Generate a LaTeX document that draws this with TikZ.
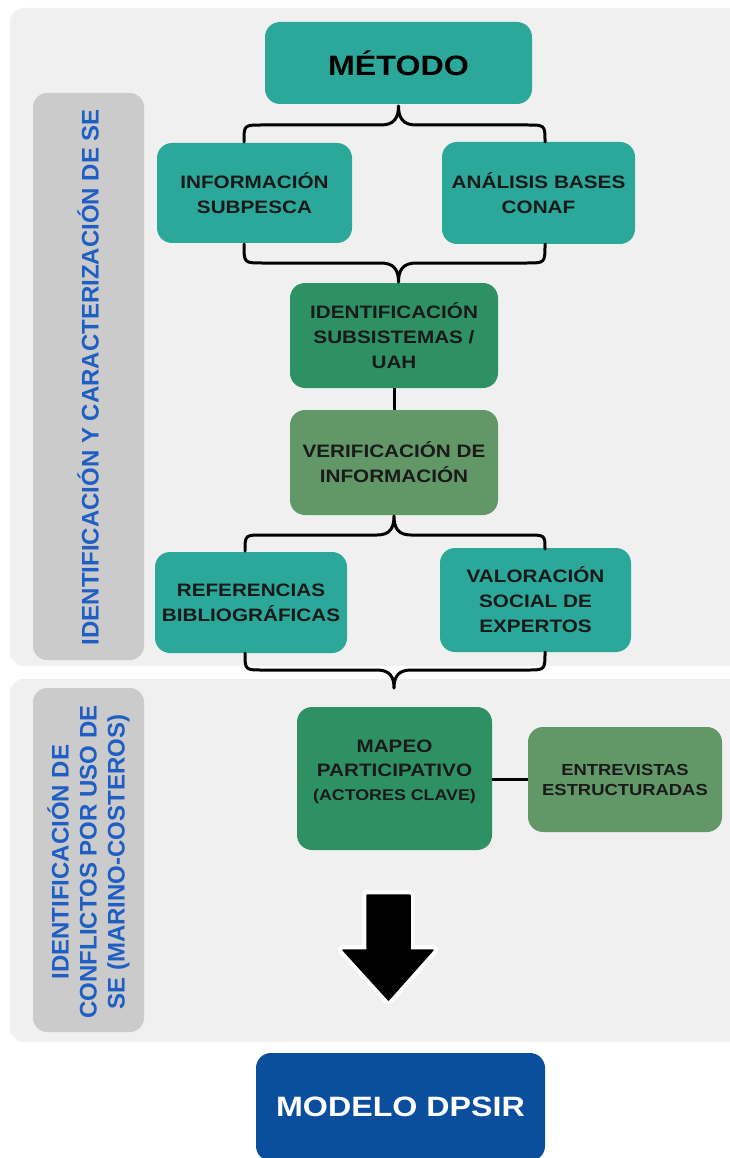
\documentclass[tikz,border=0pt]{standalone}
\usepackage{fontspec}
\setmainfont{Liberation Sans}[FakeStretch=1.15]
\newfontfamily\labfont{Liberation Sans}
\definecolor{panelbg}{HTML}{F0F0F0}
\definecolor{barbg}{HTML}{CBCBCB}
\definecolor{teal1}{HTML}{2BA89A}
\definecolor{dgreen}{HTML}{2E9164}
\definecolor{sage}{HTML}{629768}
\definecolor{labblue}{HTML}{1F5FC4}
\definecolor{dpblue}{HTML}{0B4E9E}
\definecolor{txt}{HTML}{1A1A1A}
\tikzset{
  panel/.style={fill=panelbg, draw=none, rounded corners=14pt},
  sidebar/.style={fill=barbg, draw=none, rounded corners=14pt},
  boxbase/.style={rectangle, rounded corners=15pt, draw=none, align=center, text=txt,
    font=\bfseries\fontsize{18}{25}\selectfont, inner sep=2pt},
  tealbox/.style={boxbase, fill=teal1},
  greenbox/.style={boxbase, fill=dgreen},
  sagebox/.style={boxbase, fill=sage},
  sidelabel/.style={rotate=90, align=center, text=labblue,
    font=\labfont\bfseries\fontsize{24}{28}\selectfont},
  brace/.style={draw=black, line width=3pt, line cap=round, line join=round},
  link/.style={draw=black, line width=3pt}
}
\begin{document}
\begin{tikzpicture}[x=1pt,y=-1pt]
\useasboundingbox (0,0) rectangle (730,1158);
\fill[white] (0,0) rectangle (730,1158);
% panels
\fill[panel] (10,8) rectangle (750,666);
\fill[panel] (10,679) rectangle (750,1042);
\fill[sidebar] (33,93) rectangle (144,660);
\fill[sidebar] (33,688) rectangle (144,1032);
% side labels
\node[sidelabel] (lab1) at (88,377) {IDENTIFICACIÓN Y CARACTERIZACIÓN DE SE};
\node[sidelabel] (lab2) at (88.5,862) {IDENTIFICACIÓN DE\\CONFLICTOS POR USO DE\\SE (MARINO-COSTEROS)};
% boxes
\node[tealbox, minimum width=267pt, minimum height=82pt,
  font=\bfseries\fontsize{28}{32}\selectfont, text=black] (metodo) at (398.5,63) {MÉTODO};
\node[tealbox, minimum width=195pt, minimum height=100pt] (info) at (254.5,193) {INFORMACIÓN\\SUBPESCA};
\node[tealbox, minimum width=193pt, minimum height=102pt] (analisis) at (538.5,193) {ANÁLISIS BASES\\CONAF};
\node[greenbox, minimum width=208pt, minimum height=105pt] (ident) at (394,335.5) {IDENTIFICACIÓN\\SUBSISTEMAS /\\UAH};
\node[sagebox, minimum width=208pt, minimum height=105pt] (verif) at (394,462.5) {VERIFICACIÓN DE\\INFORMACIÓN};
\node[tealbox, minimum width=192pt, minimum height=101pt] (refs) at (251,602.5) {REFERENCIAS\\BIBLIOGRÁFICAS};
\node[tealbox, minimum width=191pt, minimum height=104pt] (valor) at (535.5,600) {VALORACIÓN\\SOCIAL DE\\EXPERTOS};
\node[greenbox, minimum width=195pt, minimum height=143pt] (mapeo) at (394.5,778.5) {};
\node[align=center, text=txt, font=\bfseries\fontsize{18}{24}\selectfont] (mapeotxt) at (394.5,772)
  {MAPEO\\PARTICIPATIVO\\{\fontsize{15.5}{24}\selectfont (ACTORES CLAVE)}};
\node[sagebox, minimum width=194pt, minimum height=105pt,
  font=\bfseries\fontsize{16}{20}\selectfont] (entrev) at (625,779.5) {ENTREVISTAS\\ESTRUCTURADAS};
\node[boxbase, fill=dpblue, text=white, minimum width=289pt, minimum height=108pt,
  font=\bfseries\fontsize{28}{32}\selectfont] (dpsir) at (400.5,1107) {MODELO DPSIR};
% straight links
\draw[link] (ident.south) -- (verif.north);
\draw[link] (mapeo.east |- 0,779) -- (entrev.west |- 0,779);
% brace coordinates
\coordinate (b1L) at (244,142); \coordinate (b1R) at (545,142); \coordinate (b1T) at (398.5,106);
\coordinate (b2L) at (244,244); \coordinate (b2R) at (545,244); \coordinate (b2T) at (398.5,282);
\coordinate (b3L) at (245,551); \coordinate (b3R) at (545,549); \coordinate (b3T) at (394,516);
\coordinate (b4L) at (245,653); \coordinate (b4R) at (545,652); \coordinate (b4T) at (394,688);
% brace 1 (tip up)
\draw[brace] (b1L) .. controls (244,125) .. (262,125) -- (381,125)
  .. controls (394,125) and (398.5,118) .. (b1T)
  .. controls (398.5,118) and (403,125) .. (416,125) -- (527,125)
  .. controls (545,125) .. (b1R);
% brace 2 (tip down)
\draw[brace] (b2L) .. controls (244,263) .. (262,263) -- (381,263)
  .. controls (394,263) and (398.5,270) .. (b2T)
  .. controls (398.5,270) and (403,263) .. (416,263) -- (527,263)
  .. controls (545,263) .. (b2R);
% brace 3 (tip up)
\draw[brace] (b3L) .. controls (245,535) .. (263,535) -- (377,535)
  .. controls (390,535) and (394,528) .. (b3T)
  .. controls (394,528) and (398,535) .. (411,535) -- (527,535)
  .. controls (545,535) .. (b3R);
% brace 4 (tip down)
\draw[brace] (b4L) .. controls (245,670) .. (263,670) -- (377,670)
  .. controls (390,670) and (394,677) .. (b4T)
  .. controls (394,677) and (398,670) .. (411,670) -- (527,670)
  .. controls (545,670) .. (b4R);
% big arrow
\coordinate (arrA) at (367,895);
\draw[white, line width=10pt, line join=round, opacity=0.9]
  (367,895) -- (410,895) -- (410,950) -- (433,950) -- (388.5,1000) -- (343,950) -- (367,950) -- cycle;
\filldraw[black, line width=1.5pt, line join=round]
  (arrA) -- (410,895) -- (410,950) -- (433,950) -- (388.5,1000) -- (343,950) -- (367,950) -- cycle;
\end{tikzpicture}
\end{document}
